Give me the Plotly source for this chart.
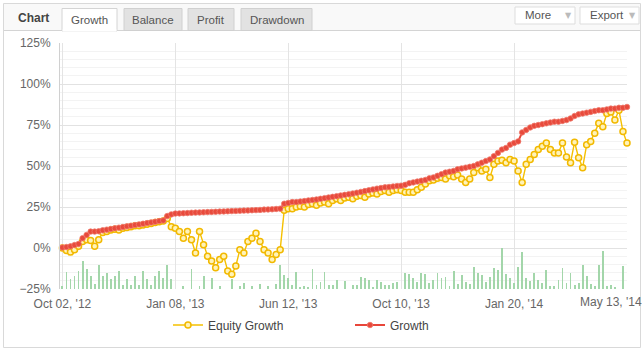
import plotly.graph_objects as go

# ---------------- data ----------------
tick_idx = [0, 28, 56, 84, 112, 140]
tick_labels = ["Oct 02, '12", "Jan 08, '13", "Jun 12, '13", "Oct 10, '13", "Jan 20, '14", "May 13, '14"]

growth = [0.3, 0.6, 1.0, 1.8, 2.5, 6.0, 8.0, 10.0, 10.0, 10.2, 10.8,
          11.2, 11.6, 12.0, 12.4, 12.8, 13.2, 13.6, 14.0, 14.4, 14.8, 15.2, 15.6, 16.0, 16.4, 16.8,
          19.5, 20.5,
          21.0, 21.1, 21.2, 21.3, 21.5, 21.6, 21.7, 21.8, 21.9, 22.0, 22.1, 22.2, 22.3, 22.4, 22.5,
          22.6, 22.7, 22.8, 22.9, 23.0, 23.1, 23.2, 23.4, 23.5, 23.6, 23.8, 24.0,
          27.0, 27.5,
          28.0, 28.0, 28.3, 28.6, 29.0, 29.3, 29.6, 30.0, 30.4, 30.8, 31.2, 31.6, 32.0, 32.4,
          32.8, 33.2, 33.7, 34.2, 34.7, 35.2, 35.7, 36.2, 36.6, 37.0, 37.2, 37.5, 37.8,
          38, 38.5, 39.5, 40, 40.5, 41, 41.5, 42.5, 43, 44, 45, 46, 46.5, 47, 48, 48.5, 49, 49.5,
          50, 51, 52, 53, 54, 56, 58, 60, 61, 63, 64, 65, 70.5, 72, 73.5, 74.5, 75, 75.5, 76,
          76.5, 77, 77, 77.5, 78, 79, 80.5, 81.5, 82, 82.5, 83, 83.5, 84, 84, 84.5, 85, 85,
          85.5, 85.5, 86]

equity = [0, -1.5, -2.5, -1, 1, 4, 5, 4.5, 1, 5, 9.5,
          10, 11, 11.5, 11, 12, 12.5, 13, 13.5, 13.5, 14, 14.5, 15, 15.5, 16, 16.5,
          18, 13, 12, 10, 6, 10, 5, -3, 10, 2, -5, -8, -12, -7, -5, -14, -16, -11, -1, -3,
          4, 6, 9, 4, -1, -3, -7, -4, -1,
          23, 24,
          24, 25, 25.5, 25, 26.5, 27, 26, 27.5, 28, 27, 29, 30, 29, 30.5, 31, 30, 31.5, 32,
          31, 33, 33.5, 33, 34.5, 35, 34, 35, 35.5,
          35, 34, 34, 34, 35.5, 37, 39, 41, 41.5, 42.5, 43, 42, 44, 43.5, 44.5, 42, 40, 42,
          46, 49, 47, 48, 43, 51, 53, 53.5, 52, 54, 53, 47, 40, 51, 54, 57, 60, 62, 64, 60,
          58, 58, 64, 55.5, 52, 64.5, 55, 49, 63, 65, 70, 76, 74, 82, 83, 78, 84, 71, 64]

volume = [2, 10.5, 5.8, 7.9, 11, 17.3, 12, 7.9, 3, 14.4, 7.9, 9.9, 5.8, 7.9, 11, 2.4, 5.8,
          2.4, 7.9, 2.4, 11, 5.8, 2.4, 7.9, 11, 6.9, 14.6, 5.8, 0, 0, 2, 0, 12, 0, 2, 7.9, 0,
          6.9, 0, 2, 0, 0, 5.8, 0, 2, 3.9, 0, 2, 0, 3, 0, 2, 0, 3, 14.6, 8.5, 6.5, 2.4, 10.5,
          1.5, 2, 1.5, 12.2, 2.4, 4, 10.5, 2.4, 2.4, 5.5, 0, 4.9, 0, 2.4, 2.4, 7.5, 7, 5.5, 1,
          5.5, 4, 2.4, 2.4, 3.5, 4.5, 0, 9.6, 9, 6.5, 4.5, 10, 9, 3.5, 5.5, 10, 6.5, 7.5, 2,
          11, 3, 8.5, 4.5, 3, 13.6, 10, 8.5, 4.5, 7.5, 12.6, 11.6, 25, 9, 6.7, 3.6, 13.6, 22.8,
          6.7, 4.7, 9.7, 5.7, 3.6, 11.7, 1.6, 1.6, 5.7, 12.9, 3.6, 9.7, 2.4, 3.6, 14.6, 7.7, 3,
          2, 14.6, 23.4, 1.6, 2.4, 1, 0, 14, 0]

x = list(range(len(growth)))

# ---------------- geometry helpers (pixel -> paper) ----------------
W, H = 644, 352
ML, MR, MT, MB = 60, 17, 43, 63
PW, PH = W - ML - MR, H - MT - MB


def xp(px):
    return (px - ML) / PW


def yp(py):
    return (H - MB - py) / PH


FONT = "Liberation Sans, Arial, sans-serif"

fig = go.Figure()

fig.add_trace(go.Bar(
    x=x, y=volume, base=-25, width=0.22,
    marker=dict(color="#a3d6aa", line=dict(width=0)),
    showlegend=False, hoverinfo="skip"))

fig.add_trace(go.Scatter(
    x=x, y=equity, name="Equity Growth", mode="lines+markers",
    line=dict(color="#f5c000", width=1.4),
    marker=dict(symbol="circle", size=6, color="#fff3b8", line=dict(color="#f2b900", width=1.5)),
    cliponaxis=False))

fig.add_trace(go.Scatter(
    x=x, y=growth, name="Growth", mode="lines+markers",
    line=dict(color="#e8463a", width=2),
    marker=dict(symbol="circle", size=5.5, color="#e84a3c", line=dict(color="#ef7a6c", width=0.8)),
    cliponaxis=False))

shapes = []
annotations = []

# outer widget frame
shapes.append(dict(type="rect", xref="paper", yref="paper",
                   x0=xp(3.5), x1=xp(640.5), y0=yp(347.5), y1=yp(3.5),
                   line=dict(color="#d9d9d9", width=1), fillcolor="rgba(0,0,0,0)", layer="below"))
# header strip
shapes.append(dict(type="rect", xref="paper", yref="paper",
                   x0=xp(4), x1=xp(640), y0=yp(30), y1=yp(4),
                   line=dict(width=0), fillcolor="#f9f9f9", layer="below"))
shapes.append(dict(type="line", xref="paper", yref="paper",
                   x0=xp(4), x1=xp(640), y0=yp(30.5), y1=yp(30.5),
                   line=dict(color="#d4d4d4", width=1)))

# tabs
tabs = [("Growth", 62, 117, True), ("Balance", 124, 182, False),
        ("Profit", 188, 234, False), ("Drawdown", 241, 312, False)]
for name, a, b, active in tabs:
    shapes.append(dict(type="rect", xref="paper", yref="paper",
                       x0=xp(a), x1=xp(b), y0=yp(31 if active else 30.5), y1=yp(8.5),
                       line=dict(color="#d0d0d0" if not active else "#d4d4d4", width=1),
                       fillcolor="#ffffff" if active else "#e2e2e2"))
    annotations.append(dict(text=name, xref="paper", yref="paper",
                            x=xp((a + b) / 2), y=yp(19.5), showarrow=False,
                            xanchor="center", yanchor="middle",
                            font=dict(family=FONT, size=11.5, color="#555555")))
# cover line under active tab
shapes.append(dict(type="line", xref="paper", yref="paper",
                   x0=xp(62.5), x1=xp(116.5), y0=yp(30.5), y1=yp(30.5),
                   line=dict(color="#ffffff", width=2)))

annotations.append(dict(text="<b>Chart</b>", xref="paper", yref="paper",
                        x=xp(16), y=yp(18.5), showarrow=False, xanchor="left", yanchor="middle",
                        font=dict(family=FONT, size=12, color="#444444")))

# buttons
for name, a, b in [("More", 515, 575), ("Export", 580, 639)]:
    shapes.append(dict(type="rect", xref="paper", yref="paper",
                       x0=xp(a), x1=xp(b), y0=yp(24), y1=yp(7),
                       line=dict(color="#dddddd", width=1), fillcolor="#ffffff"))
    annotations.append(dict(text=name, xref="paper", yref="paper",
                            x=xp(a + 8), y=yp(15.5), showarrow=False, xanchor="left",
                            yanchor="middle", font=dict(family=FONT, size=11.5, color="#555555")))
    annotations.append(dict(text="▼", xref="paper", yref="paper",
                            x=xp(b - 7), y=yp(15.5), showarrow=False, xanchor="center",
                            yanchor="middle", font=dict(family="DejaVu Sans", size=8, color="#bbbbbb")))

# last x label, pulled inside the chart like the original
annotations.append(dict(text=tick_labels[-1], xref="x", yref="paper",
                        x=tick_idx[-1], y=yp(302), xshift=-16, showarrow=False,
                        xanchor="center", yanchor="middle",
                        font=dict(family=FONT, size=12, color="#666666")))

fig.update_layout(
    width=W, height=H,
    margin=dict(l=ML, r=MR, t=MT, b=MB),
    paper_bgcolor="#ffffff", plot_bgcolor="#ffffff",
    bargap=0,
    showlegend=True,
    legend=dict(orientation="h", x=xp(168), y=yp(325), xanchor="left", yanchor="middle",
                font=dict(family=FONT, size=12, color="#444444"),
                entrywidth=137, entrywidthmode="pixels", itemwidth=30,
                bgcolor="rgba(0,0,0,0)"),
    shapes=shapes,
    annotations=annotations,
    xaxis=dict(range=[-0.6, 140], tickmode="array", tickvals=tick_idx,
               ticktext=tick_labels[:-1] + [""],
               showgrid=True, gridcolor="#e4e4e4", gridwidth=1,
               zeroline=False, showline=False, ticks="", ticklabelstandoff=6,
               tickfont=dict(family=FONT, size=12, color="#666666"), fixedrange=True),
    yaxis=dict(range=[-25, 125], tickmode="linear", tick0=-25, dtick=25, ticksuffix="%",
               showgrid=True, gridcolor="#e2e2e2", gridwidth=1,
               minor=dict(dtick=5, tick0=0, showgrid=True, gridcolor="#f3f3f3", gridwidth=1),
               zeroline=False, showline=True, linecolor="#d0d0d0", linewidth=1,
               ticks="", ticklabelstandoff=6,
               tickfont=dict(family=FONT, size=12, color="#666666"), fixedrange=True),
)

fig.write_html("out.html")
